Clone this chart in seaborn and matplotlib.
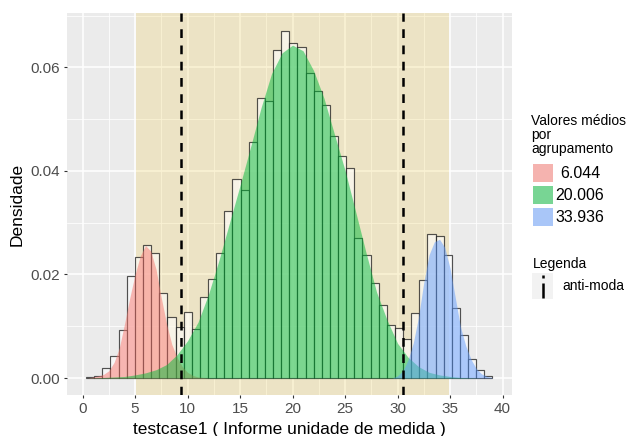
import numpy as np
import pandas as pd
import matplotlib
matplotlib.use("Agg")
import matplotlib.pyplot as plt
import seaborn as sns
from matplotlib.patches import Rectangle
from matplotlib.lines import Line2D
from matplotlib.colors import to_rgba

# ---------------- data ----------------
hist_start = 0.34
bin_width = 0.774
hist_density = [0.0001, 0.0004, 0.0019, 0.0043, 0.0093, 0.0197, 0.0234, 0.0256, 0.0241, 0.0165,
                0.0118, 0.0099, 0.0127, 0.0095, 0.0157, 0.0191, 0.0242, 0.0323, 0.0385, 0.0363,
                0.0456, 0.0541, 0.0536, 0.0634, 0.0671, 0.0648, 0.0640, 0.0590, 0.0554, 0.0527,
                0.0468, 0.0428, 0.0406, 0.0270, 0.0237, 0.0184, 0.0141, 0.0103, 0.0096, 0.0075,
                0.0126, 0.0190, 0.0279, 0.0274, 0.0237, 0.0135, 0.0083, 0.0036, 0.0016, 0.0003]

red_x = [0.5, 1.0, 1.5, 2.0, 2.5, 3.0, 3.5, 4.0, 4.5, 5.0, 5.5, 6.0, 6.5, 7.0, 7.5, 8.0,
         8.5, 9.0, 9.5, 10.0, 10.5, 11.0, 12.0]
red_y = [0.0000, 0.0002, 0.0004, 0.0007, 0.0014, 0.0030, 0.0058, 0.0105, 0.0155, 0.0200,
         0.0236, 0.0256, 0.0245, 0.0210, 0.0155, 0.0105, 0.0065, 0.0040, 0.0022, 0.0011,
         0.0005, 0.0002, 0.0000]

green_x = [0.5, 2, 3, 4, 5, 6, 7, 8, 9, 10, 11, 12, 13, 14, 15, 16, 17, 18, 19, 20,
           21, 22, 23, 24, 25, 26, 27, 28, 29, 30, 31, 32, 33, 34, 35, 36, 38, 39]
green_y = [0.0000, 0.0001, 0.0002, 0.0003, 0.0006, 0.0010, 0.0016, 0.0026, 0.0045, 0.0072,
           0.0108, 0.0162, 0.0228, 0.0300, 0.0372, 0.0446, 0.0522, 0.0588, 0.0628, 0.0643,
           0.0632, 0.0594, 0.0540, 0.0470, 0.0401, 0.0322, 0.0242, 0.0166, 0.0112, 0.0067,
           0.0040, 0.0022, 0.0011, 0.0006, 0.0003, 0.0001, 0.0000, 0.0000]

blue_x = [29.5, 30.0, 30.5, 31.0, 31.5, 32.0, 32.5, 33.0, 33.5, 34.0, 34.5, 35.0, 35.5,
          36.0, 36.5, 37.0, 37.5, 38.0, 38.5, 39.0]
blue_y = [0.0000, 0.0004, 0.0014, 0.0035, 0.0068, 0.0118, 0.0185, 0.0238, 0.0263, 0.0268,
          0.0252, 0.0212, 0.0155, 0.0098, 0.0062, 0.0036, 0.0018, 0.0008, 0.0003, 0.0001]

cluster_labels = ["6.044", "20.006", "33.936"]
cluster_colors = ["#F8766D", "#00BA38", "#619CFF"]
antimodes = [9.38, 30.52]
shade_region = [5.05, 34.9]
x_ticks = [0, 5, 10, 15, 20, 25, 30, 35, 40]
y_ticks = [0.00, 0.02, 0.04, 0.06]
y_tick_labels = ["0.00", "0.02", "0.04", "0.06"]

# ---------------- figure ----------------
W, H = 629, 436
fig = plt.figure(figsize=(W / 100, H / 100), dpi=100)
plt.rcParams['font.family'] = ['Liberation Sans', 'DejaVu Sans']

def fx(px):
    return px / W

def fy(py):
    return 1 - py / H

ax = fig.add_axes([fx(67), fy(395), (512 - 67) / W, (395 - 13) / H])
ax.set_facecolor("#EBEBEB")
ax.set_axisbelow(True)
for s in ax.spines.values():
    s.set_visible(False)

# shaded region
ax.axvspan(shade_region[0], shade_region[1], color="#EFCF57", alpha=0.25, lw=0, zorder=0.8)

# histogram of all data
edges = (hist_start + bin_width * np.arange(len(hist_density) + 1)).tolist()
centers = [e + bin_width / 2 for e in edges[:-1]]
df = pd.DataFrame({"x": centers, "d": hist_density})
sns.histplot(data=df, x="x", weights="d", bins=edges, stat="count", ax=ax,
             facecolor=(1, 1, 1, 0.6), edgecolor=(0.1, 0.1, 0.1, 0.75), linewidth=0.85, zorder=2)

# cluster densities
for xs, ys, c in [(red_x, red_y, cluster_colors[0]),
                  (green_x, green_y, cluster_colors[1]),
                  (blue_x, blue_y, cluster_colors[2])]:
    ax.fill_between(xs, ys, 0, color=c, alpha=0.5, lw=0, zorder=3)

# anti-modes
for a in antimodes:
    ax.axvline(a, color="black", lw=1.8, ls=(0, (3.5, 3)), zorder=4)

ax.set_xlim(-1.48, 40.9)
ax.set_ylim(-0.00328, 0.0705)
ax.set_xticks(x_ticks)
ax.set_xticks(np.array(x_ticks[:-1]) + 2.5, minor=True)
ax.set_yticks(y_ticks)
ax.set_yticks(np.array(y_ticks) + 0.01, minor=True)
ax.set_yticklabels(y_tick_labels)
ax.grid(which="major", color="white", linewidth=1.1)
ax.grid(which="minor", color="white", linewidth=0.55)
ax.tick_params(which="major", length=2.2, width=0.8, color="#333333",
               labelcolor="#4D4D4D", labelsize=11, pad=3)
ax.tick_params(which="minor", length=0)

ax.set_xlabel("testcase1 ( Informe unidade de medida )", fontsize=12.5, labelpad=4)
ax.set_ylabel("Densidade", fontsize=12.5, labelpad=4)

# ---------------- legends (manual) ----------------
fig.text(fx(531), fy(125), "Valores médios", fontsize=10, va="baseline", ha="left")
fig.text(fx(531), fy(139), "por", fontsize=10, va="baseline", ha="left")
fig.text(fx(531), fy(153), "agrupamento", fontsize=10, va="baseline", ha="left")

key_tops = [164, 186, 208]
for top, c, lab in zip(key_tops, cluster_colors, cluster_labels):
    fig.add_artist(Rectangle((fx(533), fy(top + 18)), 20 / W, 18 / H,
                             transform=fig.transFigure, facecolor="#F2F2F2", lw=0))
    fig.add_artist(Rectangle((fx(533), fy(top + 18)), 20 / W, 18 / H,
                             transform=fig.transFigure, facecolor=to_rgba(c, 0.5), lw=0))
    fig.text(fx(580), fy(top + 9), lab, fontsize=11.5, ha="center", va="center")

fig.text(fx(533), fy(268), "Legenda", fontsize=10, va="baseline", ha="left")
fig.add_artist(Rectangle((fx(532), fy(299)), 21 / W, 26 / H,
                         transform=fig.transFigure, facecolor="#F2F2F2", lw=0))
fig.add_artist(Line2D([fx(543), fx(543)], [fy(278), fy(275)], transform=fig.transFigure,
                      color="black", lw=1.8, solid_capstyle="butt"))
fig.add_artist(Line2D([fx(543), fx(543)], [fy(298), fy(283)], transform=fig.transFigure,
                      color="black", lw=1.8, solid_capstyle="butt"))
fig.text(fx(562), fy(286), "anti-moda", fontsize=10, va="center", ha="left")

fig.savefig("out.png", dpi=100)
